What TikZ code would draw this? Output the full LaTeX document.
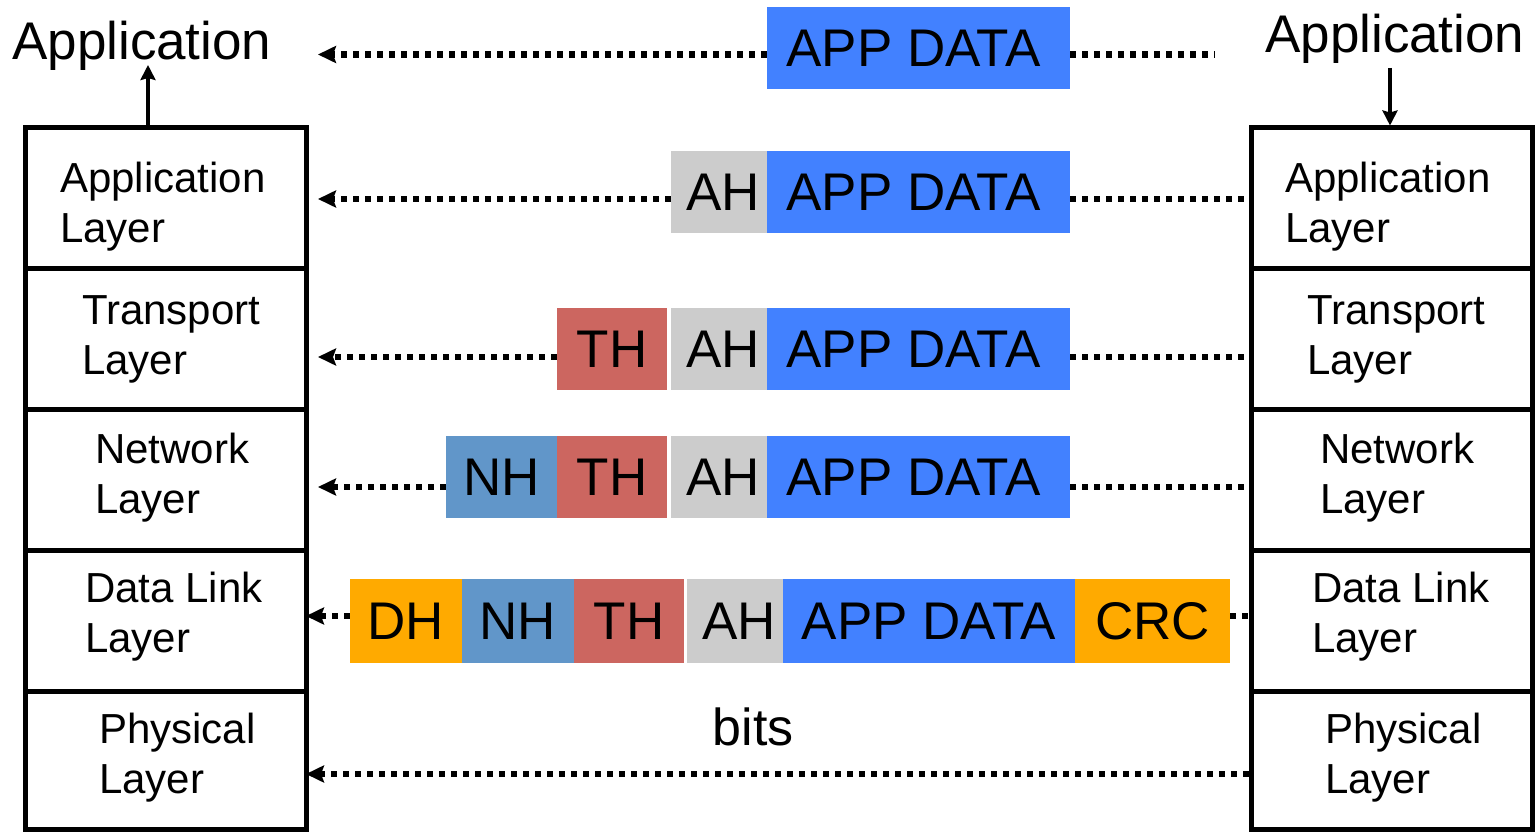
\documentclass[tikz,border=0pt]{standalone}
\usepackage{fontspec}
\setmainfont{Liberation Sans}
\usetikzlibrary{arrows.meta}
\definecolor{appblue}{RGB}{66,129,255}
\definecolor{ahgray}{RGB}{204,204,204}
\definecolor{thred}{RGB}{204,102,96}
\definecolor{nhblue}{RGB}{97,150,201}
\definecolor{dhorange}{RGB}{255,170,0}
\begin{document}
\begin{tikzpicture}[x=1pt,y=-1pt,
 layerbox/.style={draw, line width=5pt, minimum width=281pt, inner sep=0pt},
 layertext/.style={anchor=base west, align=left, inner sep=0pt, font=\fontsize{42}{50}\selectfont},
 pkt/.style={inner sep=0pt, minimum height=82pt, font=\fontsize{53}{62}\selectfont},
 title/.style={anchor=base west, inner sep=0pt, font=\fontsize{53}{62}\selectfont},
 dotarrow/.style={line width=6.5pt, dash pattern=on 6pt off 6pt, -{Stealth[length=18pt,width=17pt,inset=3pt]}},
 dotline/.style={line width=6.5pt, dash pattern=on 6pt off 6pt},
 updown/.style={line width=4.5pt, -{Stealth[length=15pt,width=15pt,inset=2pt]}}
]
\useasboundingbox (0,0) rectangle (1535,832);

% titles
\node[title] (titleL) at (12,60) {Application};
\node[title] (titleR) at (1265,53) {Application};

% left stack
\node[layerbox, minimum height=140pt] (L1) at (165.5,198) {};
\node[layerbox, minimum height=141pt] (L2) at (165.5,338.5) {};
\node[layerbox, minimum height=141pt] (L3) at (165.5,479.5) {};
\node[layerbox, minimum height=141pt] (L4) at (165.5,620.5) {};
\node[layerbox, minimum height=138pt] (L5) at (165.5,760) {};
% right stack
\node[layerbox, minimum height=140pt] (R1) at (1391.5,198) {};
\node[layerbox, minimum height=141pt] (R2) at (1391.5,338.5) {};
\node[layerbox, minimum height=141pt] (R3) at (1391.5,479.5) {};
\node[layerbox, minimum height=141pt] (R4) at (1391.5,620.5) {};
\node[layerbox, minimum height=138pt] (R5) at (1391.5,760) {};

% layer texts (base = last line)
\node[layertext] (L1t) at (60,242) {Application\\Layer};
\node[layertext] (L2t) at (82,374) {Transport\\Layer};
\node[layertext] (L3t) at (95,513) {Network\\Layer};
\node[layertext] (L4t) at (85,652) {Data Link\\Layer};
\node[layertext] (L5t) at (99,793) {Physical\\Layer};
\node[layertext] (R1t) at (1285,242) {Application\\Layer};
\node[layertext] (R2t) at (1307,374) {Transport\\Layer};
\node[layertext] (R3t) at (1320,513) {Network\\Layer};
\node[layertext] (R4t) at (1312,652) {Data Link\\Layer};
\node[layertext] (R5t) at (1325,793) {Physical\\Layer};

% packets
\node[pkt, fill=appblue, minimum width=303pt] (d1) at (918.5,48) {APP DATA\kern10pt};

\node[pkt, fill=ahgray, minimum width=96pt] (a2) at (719,192) {\kern8pt AH};
\node[pkt, fill=appblue, minimum width=303pt] (d2) at (918.5,192) {APP DATA\kern10pt};

\node[pkt, fill=thred, minimum width=110pt] (t3) at (612,349) {TH};
\node[pkt, fill=ahgray, minimum width=96pt] (a3) at (719,349) {\kern8pt AH};
\node[pkt, fill=appblue, minimum width=303pt] (d3) at (918.5,349) {APP DATA\kern10pt};

\node[pkt, fill=nhblue, minimum width=111pt] (n4) at (501.5,477) {NH};
\node[pkt, fill=thred, minimum width=110pt] (t4) at (612,477) {TH};
\node[pkt, fill=ahgray, minimum width=96pt] (a4) at (719,477) {\kern8pt AH};
\node[pkt, fill=appblue, minimum width=303pt] (d4) at (918.5,477) {APP DATA\kern10pt};

\node[pkt, minimum height=84pt, fill=dhorange, minimum width=112pt] (dh5) at (406,621) {DH};
\node[pkt, minimum height=84pt, fill=nhblue, minimum width=112pt] (n5) at (518,621) {NH};
\node[pkt, minimum height=84pt, fill=thred, minimum width=110pt] (t5) at (629,621) {TH};
\node[pkt, minimum height=84pt, fill=ahgray, minimum width=96pt] (a5) at (735,621) {\kern8pt AH};
\node[pkt, minimum height=84pt, fill=appblue, minimum width=292pt] (d5) at (929,621) {APP DATA};
\node[pkt, minimum height=84pt, fill=dhorange, minimum width=155pt] (c5) at (1152.5,621) {CRC};

\node[anchor=base, inner sep=0pt, font=\fontsize{52}{60}\selectfont] (bits) at (753,745) {bits};

% free ends
\coordinate (e1) at (318,54.5);
\coordinate (f1) at (1215,54.5);
\coordinate (e2) at (318,199);
\coordinate (e3) at (318,357);
\coordinate (e4) at (318,487);
\coordinate (e5) at (306,616);
\coordinate (e6) at (306,774);
\coordinate (u1) at (148,65);
\coordinate (u2) at (1390,68);

% dotted connectors
\draw[dotarrow] (d1.west |- e1) -- (e1);
\draw[dotline] (d1.east |- f1) -- (f1);
\draw[dotarrow] (a2.west |- e2) -- (e2);
\draw[dotline] (d2.east |- e2) -- (R1.west |- e2);
\draw[dotarrow] (t3.west |- e3) -- (e3);
\draw[dotline] (d3.east |- e3) -- (R2.west |- e3);
\draw[dotarrow] (n4.west |- e4) -- (e4);
\draw[dotline] (d4.east |- e4) -- (R3.west |- e4);
\draw[dotarrow] (dh5.west |- e5) -- (e5);
\draw[dotline] (c5.east |- e5) -- (R4.west |- e5);
\draw[dotarrow] (R5.west |- e6) -- (e6);

% vertical arrows
\draw[updown] (L1.north -| u1) -- (u1);
\draw[updown] (u2) -- (R1.north -| u2);
\end{tikzpicture}
\end{document}
